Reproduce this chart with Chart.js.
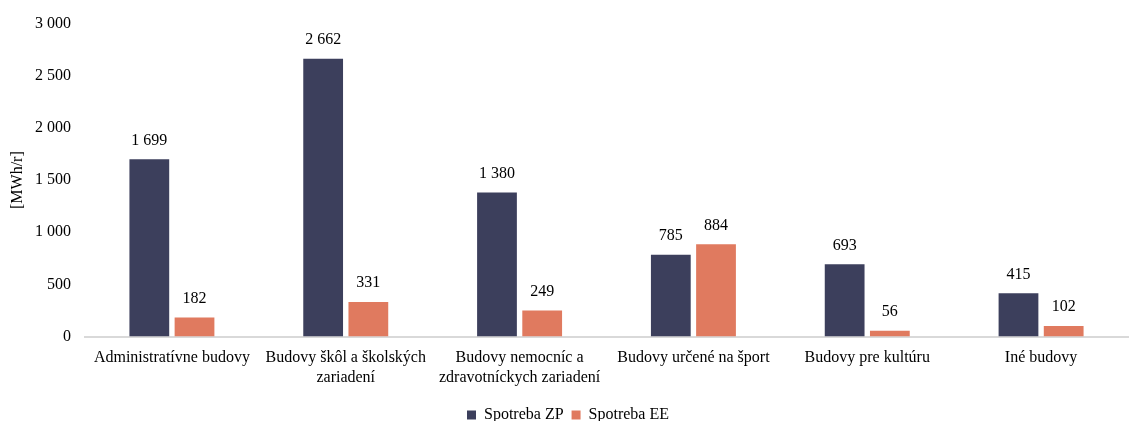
<!DOCTYPE html>
<html lang="sk">
<head>
<meta charset="UTF-8">
<title>Spotreba</title>
<script src="https://cdn.jsdelivr.net/npm/chart.js@4.4.0/dist/chart.umd.min.js"></script>
<style>
    html, body { margin: 0; padding: 0; background: #fff; }
    #wrap { width: 1142px; height: 421px; position: relative; }
</style>
</head>
<body>
<div id="wrap"><canvas id="graf"></canvas></div>
<script>
// kategorie a hodnoty
const kategorie = [
    'Administratívne budovy',
    ['Budovy škôl a školských', 'zariadení'],
    ['Budovy nemocníc a', 'zdravotníckych zariadení'],
    'Budovy určené na šport',
    'Budovy pre kultúru',
    'Iné budovy'
];
const spotrebaZP = [1699, 2662, 1380, 785, 693, 415];
const spotrebaEE = [182, 331, 249, 884, 56, 102];
const osY = [0, 500, 1000, 1500, 2000, 2500, 3000];

const pismo = '"Liberation Serif", "Times New Roman", serif';

function cislo(v) {
    // medzera ako oddelovac tisicov
    return String(v).replace(/\B(?=(\d{3})+(?!\d))/g, ' ');
}

// popisky hodnot nad stlpcami
const hodnotyNad = {
    id: 'hodnotyNad',
    afterDatasetsDraw(chart) {
        const ctx = chart.ctx;
        ctx.save();
        ctx.font = '16px ' + pismo;
        ctx.fillStyle = '#000';
        ctx.textAlign = 'center';
        ctx.textBaseline = 'bottom';
        chart.data.datasets.forEach((ds, i) => {
            chart.getDatasetMeta(i).data.forEach((bar, j) => {
                ctx.fillText(cislo(ds.data[j]), bar.x, bar.y - 11);
            });
        });
        ctx.restore();
    }
};

new Chart(document.getElementById('graf'), {
    type: 'bar',
    data: {
        labels: kategorie,
        datasets: [
            {
                label: 'Spotreba ZP',
                data: spotrebaZP,
                backgroundColor: '#3c3f5c',
                categoryPercentage: 0.52,
                barPercentage: 0.88
            },
            {
                label: 'Spotreba EE',
                data: spotrebaEE,
                backgroundColor: '#e07a5f',
                categoryPercentage: 0.52,
                barPercentage: 0.88
            }
        ]
    },
    options: {
        responsive: true,
        maintainAspectRatio: false,
        animation: false,
        layout: { padding: { top: 11, right: 14, left: 8, bottom: -12 } },
        plugins: {
            legend: {
                position: 'bottom',
                labels: {
                    color: '#000',
                    font: { family: pismo, size: 16 },
                    boxWidth: 9,
                    boxHeight: 9,
                    padding: 8
                }
            },
            tooltip: { enabled: false }
        },
        scales: {
            x: {
                grid: { display: false, drawTicks: false },
                border: { color: '#d9d9d9', width: 2 },
                ticks: {
                    color: '#000',
                    font: { family: pismo, size: 16 },
                    maxRotation: 0,
                    padding: 12
                }
            },
            y: {
                min: 0,
                max: 3000,
                afterBuildTicks: (axis) => { axis.ticks = osY.map(v => ({ value: v })); },
                afterFit: (axis) => { axis.width = 77; },
                grid: { display: false, drawTicks: false },
                border: { display: false },
                title: {
                    display: true,
                    text: '[MWh/r]',
                    color: '#000',
                    font: { family: pismo, size: 16 },
                    padding: { top: 0, bottom: 6 }
                },
                ticks: {
                    color: '#000',
                    font: { family: pismo, size: 16 },
                    padding: 14,
                    callback: (v) => cislo(v)
                }
            }
        }
    },
    plugins: [hodnotyNad]
});
</script>
</body>
</html>
